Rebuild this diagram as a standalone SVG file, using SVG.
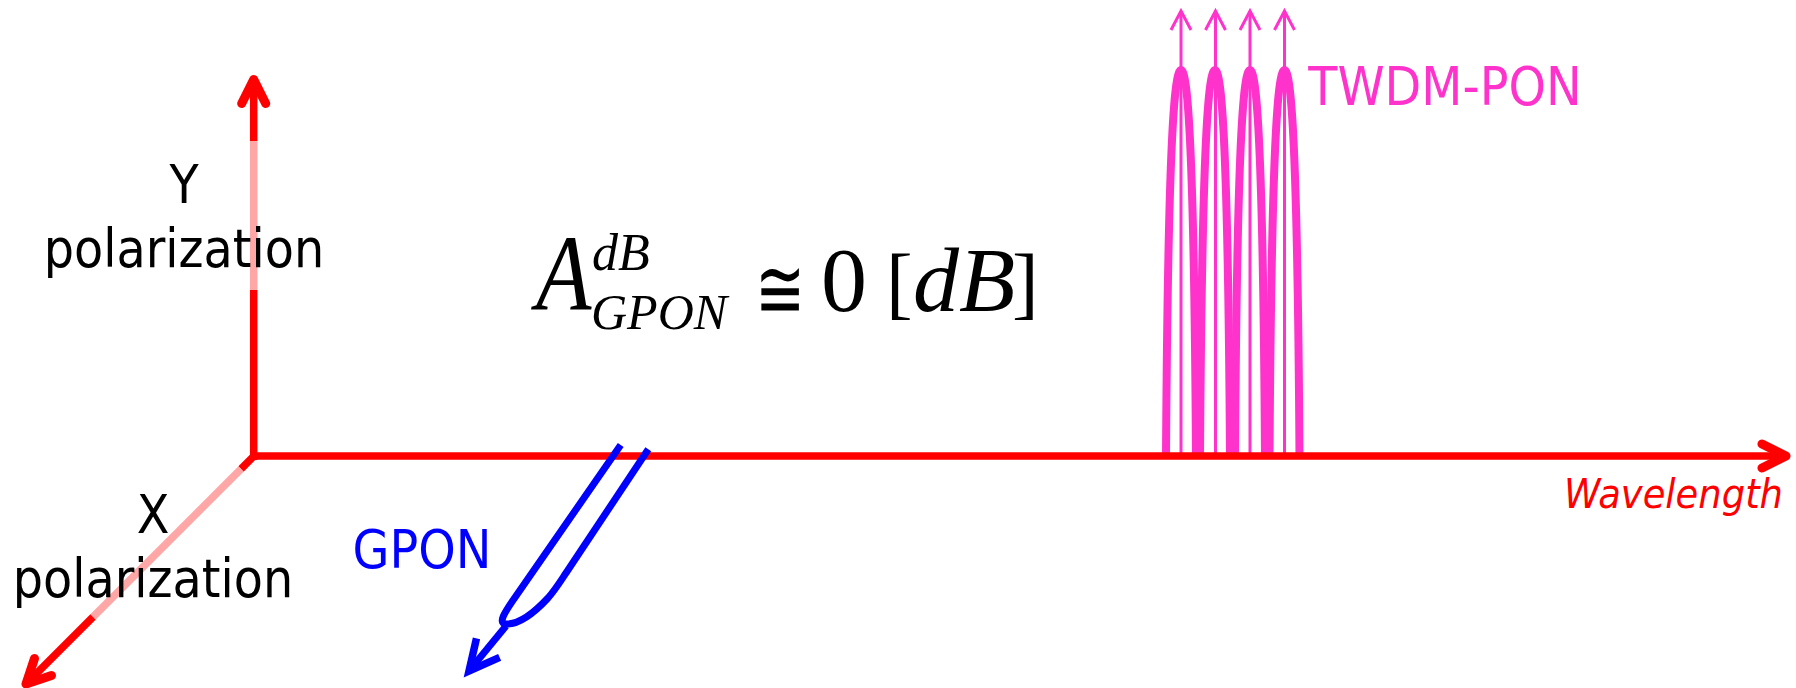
<svg xmlns="http://www.w3.org/2000/svg" width="1796" height="688" viewBox="0 0 1796 688">
<style>
.lbl{font-family:"DejaVu Sans Condensed","DejaVu Sans",sans-serif;font-stretch:condensed;font-size:53px;}
.math{font-family:"Liberation Serif","Times New Roman",serif;}
.it{font-style:italic;}
.axis{fill:none;stroke:#FF0000;stroke-width:7.5;}
.pale{fill:none;stroke:#FFA6A6;stroke-width:7.5;}
.peak{fill:none;stroke:#FF33CC;stroke-width:8;}
.thin{fill:none;stroke:#FF33CC;stroke-width:3;}
.blue{fill:none;stroke:#0000FF;stroke-width:7;}
</style>
<defs>
<marker id="arrRed" markerUnits="userSpaceOnUse" viewBox="-40 -25 50 50" markerWidth="50" markerHeight="50" refX="0" refY="0" orient="auto" overflow="visible">
<path d="M -24,-12 L 0,0 L -24,12" fill="none" stroke="#FF0000" stroke-width="9" stroke-linecap="round" stroke-linejoin="round"/>
</marker>
<marker id="arrPink" markerUnits="userSpaceOnUse" viewBox="-30 -15 35 30" markerWidth="35" markerHeight="30" refX="0" refY="0" orient="auto" overflow="visible">
<path d="M -19,-10 L 0,0 L -19,10" fill="none" stroke="#FF33CC" stroke-width="3" stroke-linejoin="miter"/>
</marker>
<marker id="arrBlue" markerUnits="userSpaceOnUse" viewBox="-40 -25 50 50" markerWidth="50" markerHeight="50" refX="0" refY="0" orient="auto" overflow="visible">
<path d="M -30,-15 L 0,0 L -30,15" fill="none" stroke="#0000FF" stroke-width="7.5" stroke-linejoin="miter" stroke-miterlimit="10"/>
</marker>
</defs>

<g id="twdm-pon">
<path class="peak" d="M 1166,456 C 1168,150 1174,70 1181,70 C 1188,70 1194,150 1196,456"/>
<path class="peak" d="M 1200,456 C 1202,150 1208,70 1215,70 C 1222,70 1228,150 1230,456"/>
<path class="peak" d="M 1235,456 C 1237,150 1243,70 1250,70 C 1257,70 1263,150 1265,456"/>
<path class="peak" d="M 1269.5,456 C 1271.5,150 1277.5,70 1284.5,70 C 1291.5,70 1297.5,150 1299.5,456"/>
<path class="thin" d="M 1181,456 L 1181,11" marker-end="url(#arrPink)"/>
<path class="thin" d="M 1215.5,456 L 1215.5,11" marker-end="url(#arrPink)"/>
<path class="thin" d="M 1250,456 L 1250,11" marker-end="url(#arrPink)"/>
<path class="thin" d="M 1284.5,456 L 1284.5,11" marker-end="url(#arrPink)"/>
<text class="lbl" x="1445" y="105" text-anchor="middle" fill="#FF33CC">TWDM-PON</text>
</g>

<g id="connectors">
<g id="axis-y">
<path class="axis" d="M 253.7,460 L 253.7,290"/>
<path class="pale" d="M 253.7,290 L 253.7,141"/>
<path class="axis" d="M 253.7,141 L 253.7,79.5" marker-end="url(#arrRed)"/>
</g>
<g id="axis-x">
<path class="axis" d="M 254,456 L 241,469"/>
<path class="pale" d="M 241,469 L 93,617"/>
<path class="axis" d="M 93,617 L 26,684" marker-end="url(#arrRed)"/>
</g>
<g id="axis-wavelength">
<path class="axis" d="M 250,456 L 1786,456" marker-end="url(#arrRed)"/>
</g>
</g>

<g id="gpon">
<path class="blue" d="M 620.7,445 L 516,596 C 504,613 497,624 507,624 C 520,624 535,612 548,598 C 555,590 560,582 566,573 L 648.3,449.3"/>
<path class="blue" d="M 506,626 L 469,671" marker-end="url(#arrBlue)"/>
<text class="lbl" x="422" y="568" text-anchor="middle" fill="#0000FF">GPON</text>
</g>

<g id="label-y">
<text class="lbl" x="184" y="203" text-anchor="middle" fill="#000000">Y</text>
<text class="lbl" x="184" y="267" text-anchor="middle" fill="#000000">polarization</text>
</g>
<g id="label-x">
<text class="lbl" x="153" y="533" text-anchor="middle" fill="#000000">X</text>
<text class="lbl" x="153" y="597" text-anchor="middle" fill="#000000">polarization</text>
</g>
<g id="label-wavelength">
<text class="lbl" x="1673.5" y="508" text-anchor="middle" fill="#FF0000" font-style="italic" style="font-size:41px">Wavelength</text>
</g>

<g id="formula" fill="#000000">
<text class="math it" transform="translate(536,310) scale(0.84,1)" x="0" y="0" font-size="108">A</text>
<text class="math it" x="592" y="270" font-size="52">dB</text>
<text class="math it" x="591" y="329" font-size="50">GPON</text>
<text x="755" y="318" font-family="DejaVu Serif, serif" font-size="84" textLength="50" lengthAdjust="spacingAndGlyphs">≅</text>
<text class="math" x="821" y="311" font-size="92">0</text>
<text class="math" x="886" y="309" font-size="80">[</text>
<text class="math it" x="913" y="311" font-size="92">dB</text>
<text class="math" x="1012" y="309" font-size="80">]</text>
</g>
</svg>
